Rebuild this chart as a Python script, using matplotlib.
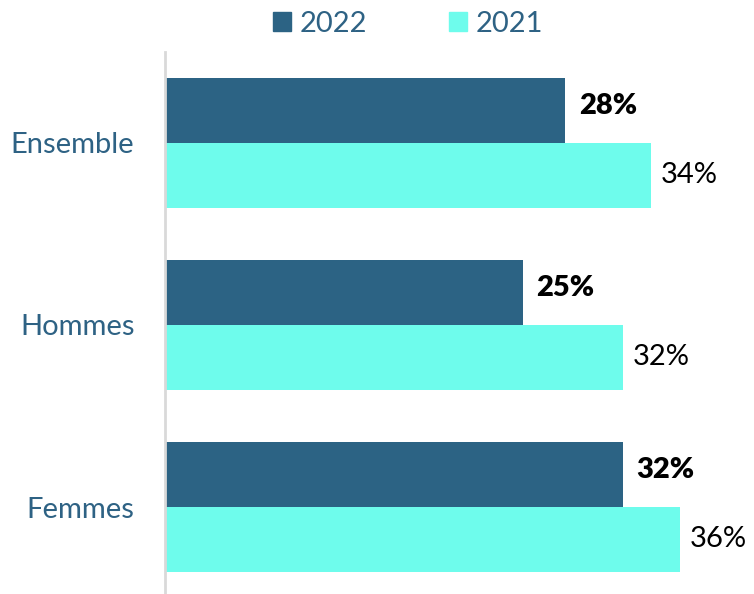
import matplotlib
matplotlib.use("Agg")
import matplotlib.pyplot as plt
from matplotlib.patches import Patch
import numpy as np

categories = ["Ensemble", "Hommes", "Femmes"]
series_names = ["2022", "2021"]
values_2022 = [28, 25, 32]
values_2021 = [34, 32, 36]

dark = "#2C6384"
light = "#6EFCEC"
text_blue = "#2E6284"

plt.rcParams['font.family'] = ['Lato', 'DejaVu Sans']

W, H = 754, 594
fs = 21
fig = plt.figure(figsize=(W / 100, H / 100), dpi=100)
ax = fig.add_axes([165 / W, 0, 1 - 165 / W, (594 - 52) / H])

y = np.arange(len(categories))
h = 65 / 182
ax.barh(y - h / 2, values_2022, height=h, color=dark, label=series_names[0])
ax.barh(y + h / 2, values_2021, height=h, color=light, label=series_names[1])

ax.set_xlim(0, (W - 165) / 14.3)
ax.set_ylim(-0.5 + (594 - 52) / 182, -0.5)

for yi, v in zip(y, values_2022):
    ax.annotate(f"{v}%", (v, yi - h / 2), xytext=(10, 3), textcoords="offset points",
                ha="left", va="center", fontsize=fs, fontweight="heavy", color="black")
for yi, v in zip(y, values_2021):
    ax.annotate(f"{v}%", (v, yi + h / 2), xytext=(7, 0), textcoords="offset points",
                ha="left", va="center", fontsize=fs, color="black")

ax.set_yticks(y)
ax.set_yticklabels(categories, fontsize=fs, color=text_blue)
ax.tick_params(axis="y", length=0, pad=22)
ax.set_xticks([])
for s in ["top", "right", "bottom"]:
    ax.spines[s].set_visible(False)
ax.spines["left"].set_color("#D9D9D9")
ax.spines["left"].set_linewidth(2)

handles = [Patch(color=dark, label=series_names[0]), Patch(color=light, label=series_names[1])]
leg = fig.legend(handles=handles, loc="center", bbox_to_anchor=(408 / W, 1 - 24 / H), ncol=2,
                 frameon=False, fontsize=fs, handlelength=0.62, handleheight=0.62,
                 handletextpad=0.3, columnspacing=2.8)
for t in leg.get_texts():
    t.set_color(text_blue)

fig.savefig("out.png", dpi=100)
